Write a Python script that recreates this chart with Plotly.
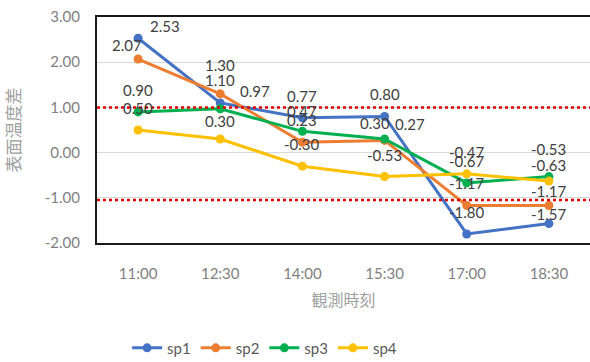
import plotly.graph_objects as go

times = ["11:00", "12:30", "14:00", "15:30", "17:00", "18:30"]
series_names = ["sp1", "sp2", "sp3", "sp4"]
sp1 = [2.53, 1.10, 0.77, 0.80, -1.80, -1.57]
sp2 = [2.07, 1.30, 0.23, 0.27, -1.17, -1.17]
sp3 = [0.90, 0.97, 0.47, 0.30, -0.67, -0.53]
sp4 = [0.50, 0.30, -0.30, -0.53, -0.47, -0.63]
thresholds = [1.00, -1.05]
y_ticks = [-2, -1, 0, 1, 2, 3]

colors = ["#4472C4", "#ED7D31", "#00B050", "#FFC000"]
all_series = [sp1, sp2, sp3, sp4]

# label offsets (style only): (series index, point index) -> (xshift, yshift)
label_shift = {
    (0, 0): (27, 12), (1, 0): (-11, 14), (2, 2): (0, 20), (2, 1): (35, 18),
    (1, 1): (0, 29), (0, 1): (0, 23),
    (1, 3): (25, 16), (2, 3): (-10, 16), (3, 1): (0, 18),
    (2, 5): (0, 28), (3, 5): (0, 16), (1, 5): (0, 14), (0, 5): (0, 10),
}

fig = go.Figure()
for name, vals, col in zip(series_names, all_series, colors):
    fig.add_trace(go.Scatter(
        x=times, y=vals, name=name, mode="lines+markers",
        line=dict(color=col, width=3), marker=dict(color=col, size=9),
    ))

annotations = []
for si, vals in enumerate(all_series):
    for pi, v in enumerate(vals):
        xs, ys = label_shift.get((si, pi), (0, 22))
        annotations.append(dict(
            x=times[pi], y=v, xref="x", yref="y", text=f"{v:.2f}",
            showarrow=False, xshift=xs, yshift=ys,
            font=dict(family="Lato, sans-serif", size=15, color="#404040"),
        ))

shapes = []
for t in thresholds:
    shapes.append(dict(type="line", xref="paper", x0=0, x1=1, yref="y", y0=t, y1=t,
                       line=dict(color="#E00000", width=2.5, dash="dot"), layer="above"))

fig.update_layout(
    width=590, height=362,
    margin=dict(l=97, r=0, t=17, b=119, autoexpand=False),
    paper_bgcolor="white", plot_bgcolor="white",
    font=dict(family="Lato, sans-serif", color="#7f7f7f"),
    showlegend=True,
    legend=dict(orientation="h", x=0.34, xanchor="center", y=-0.465, yanchor="middle",
                font=dict(size=15, color="#595959"), itemwidth=30, tracegroupgap=0),
    annotations=annotations,
    shapes=shapes,
)
fig.update_xaxes(
    type="category", range=[-0.5, 5.5], automargin=False,
    showline=True, mirror=True, linecolor="#1a1a1a", linewidth=2,
    showgrid=False, ticks="", ticklabelstandoff=16, tickfont=dict(size=15, color="#7f7f7f"),
    title=dict(text="観測時刻", font=dict(family="Noto Sans CJK JP", size=16, color="#a0a0a0"), standoff=14),
)
fig.update_yaxes(
    range=[-2, 3], tickvals=y_ticks, ticktext=[f"{v:.2f}" for v in y_ticks], automargin=False,
    showline=True, mirror=True, linecolor="#1a1a1a", linewidth=2,
    showgrid=True, gridcolor="#d9d9d9", gridwidth=1, zeroline=False,
    ticks="", ticklabelstandoff=12, tickfont=dict(size=15, color="#7f7f7f"),
    title=dict(text="表面温度差", font=dict(family="Noto Sans CJK JP", size=17, color="#a0a0a0"), standoff=20),
)

fig.write_html("out.html")
